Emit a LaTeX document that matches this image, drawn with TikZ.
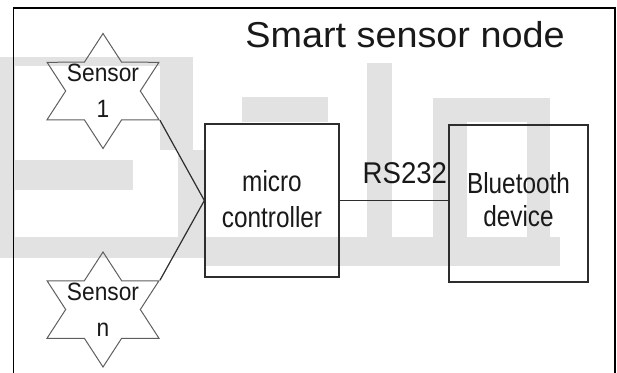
\documentclass[tikz,border=0pt]{standalone}
\usepackage{fontspec}
\setmainfont{Liberation Sans}
\newfontfamily\titlefam[FakeStretch=1.05]{Liberation Sans}
\newfontfamily\labfam[FakeStretch=0.84]{Liberation Sans}
\newfontfamily\rsfam[FakeStretch=0.92]{Liberation Sans}
\newfontfamily\senfam[FakeStretch=0.91]{Liberation Sans}
\usetikzlibrary{shapes.geometric}
\definecolor{wm}{RGB}{226,226,226}
\definecolor{ink}{RGB}{45,45,45}
\definecolor{starline}{RGB}{95,95,95}
\definecolor{txt}{RGB}{25,25,25}
\begin{document}
\begin{tikzpicture}[x=1pt,y=-1pt,
  box/.style={draw=ink, line width=1.3pt, inner sep=0pt},
  sstar/.style={star, star points=6, star point ratio=1.732, minimum size=115pt,
    inner sep=0pt, draw=starline, line width=1pt, transform shape, xscale=1.124},
  sentext/.style={font=\senfam\fontsize{25}{36}\selectfont, align=center, inner sep=0pt, text=txt},
  labtext/.style={font=\labfam\fontsize{29}{36}\selectfont, align=center, inner sep=0pt, text=txt},
  conn/.style={draw=ink, line width=1.2pt},
  wmark/.style={fill=wm, draw=none}]
\clip (0,0) rectangle (617,372);
\fill[white] (0,0) rectangle (617,372);
% faint watermark
\fill[wmark] (0,57) rectangle (193,66);
\fill[wmark] (0,57) rectangle (15,240);
\fill[wmark] (160,57) rectangle (193,150);
\fill[wmark] (15,160) rectangle (133,190);
\fill[wmark] (178,150) rectangle (205,258);
\fill[wmark] (0,237) rectangle (205,258);
\fill[wmark] (242,97) rectangle (328,122);
\fill[wmark] (367,63) rectangle (392,237);
\fill[wmark] (205,237) rectangle (560,266);
\fill[wmark] (433,98) rectangle (467,237);
\fill[wmark] (433,98) rectangle (533,122);
\fill[wmark] (527,98) rectangle (550,237);
% frame
\draw[line width=1.5pt, black] (13.5,8) rectangle (615,385);
% title
\node[font=\titlefam\fontsize{36}{40}\selectfont, anchor=base, inner sep=0pt, text=txt] (title) at (405,47) {Smart sensor node};
% sensors
\node[sstar] (s1) at (103,91) {};
\node[sentext] (s1t) at (s1.center) {Sensor\\1};
\node[sstar] (sn) at (103,309.5) {};
\node[sentext] (snt) at (sn.center) {Sensor\\n};
% boxes
\node[box, minimum width=134pt, minimum height=153pt] (mc) at (272,200.5) {};
\node[labtext] (mct) at (272,199) {micro\\controller};
\node[box, minimum width=139pt, minimum height=157pt] (bt) at (518.5,203.5) {};
\node[labtext, font=\labfam\fontsize{29}{33}\selectfont] (btt) at (518.5,200) {Bluetooth\\device};
% connectors
\draw[conn] (s1.outer point 5) -- (mc.west);
\draw[conn] (sn.outer point 6) -- (mc.west);
\draw[conn] (mc.east) -- node[pos=0.6, anchor=base, yshift=17pt, inner sep=0pt, text=txt,
  font=\rsfam\fontsize{30}{34}\selectfont] (rs) {RS232} (mc.east -| bt.west);
\end{tikzpicture}
\end{document}
